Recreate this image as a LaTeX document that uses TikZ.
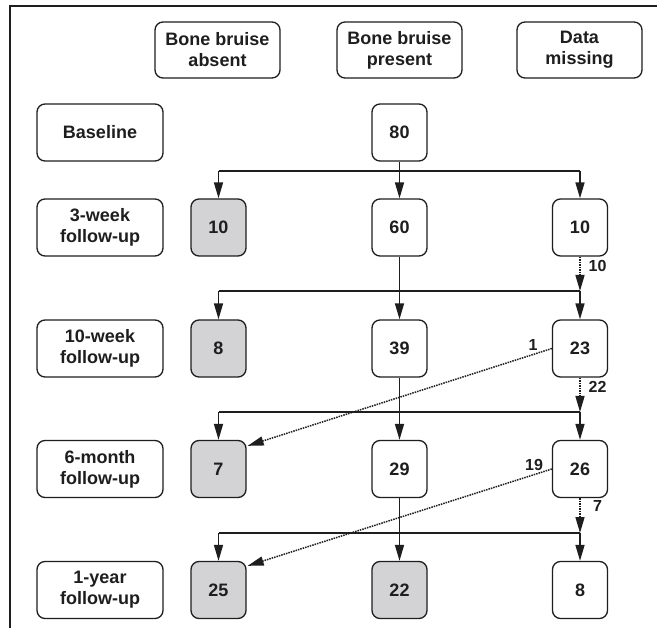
\documentclass[tikz,border=0pt]{standalone}
\usepackage{fontspec}
\setmainfont{Liberation Sans}
\usetikzlibrary{arrows.meta,calc}
\definecolor{boxgray}{RGB}{211,211,213}
\definecolor{ink}{RGB}{30,30,30}
\begin{document}
\begin{tikzpicture}[x=1pt,y=-1pt,
  box/.style={draw=ink, line width=1.3pt, rounded corners=8pt, align=center,
    font=\fontsize{18}{21}\selectfont\bfseries, inner sep=0pt, text=ink},
  lab/.style={box, minimum width=126pt, minimum height=57pt},
  hdr/.style={box, minimum width=125pt, minimum height=56pt},
  num/.style={box, minimum width=55pt, minimum height=57pt},
  gnum/.style={num, fill=boxgray},
  conn/.style={draw=ink, line width=1.6pt, -{Triangle[length=16pt,width=9pt]}},
  dconn/.style={draw=ink, line width=1.5pt, densely dotted, -{Triangle[length=16pt,width=9pt]}},
  plain/.style={draw=ink, line width=1.6pt},
  small/.style={font=\fontsize{16}{18}\selectfont\bfseries, text=ink, inner sep=0pt}
]
\useasboundingbox (0,0) rectangle (659,628);
\fill[white] (0,0) rectangle (659,628);
\draw[line width=2.3pt, ink] (10,628) -- (10,6) -- (657,6);

% headers
\node[hdr] (h1) at (217.5,50) {Bone bruise\\absent};
\node[hdr] (h2) at (399.5,50) {Bone bruise\\present};
\node[hdr] (h3) at (579.5,50) {Data\\missing};

% row labels
\node[lab] (l0) at (100,132.5) {Baseline};
\node[lab] (l1) at (100,227.5) {3-week\\follow-up};
\node[lab] (l2) at (100,348.5) {10-week\\follow-up};
\node[lab] (l3) at (100,469) {6-month\\follow-up};
\node[lab] (l4) at (100,590) {1-year\\follow-up};

% numbers
\node[num] (p0) at (399.5,132.5) {80};
\node[gnum] (a1) at (218.5,227.5) {10};
\node[num] (p1) at (399.5,227.5) {60};
\node[num] (m1) at (580,227.5) {10};
\node[gnum] (a2) at (218.5,348.5) {8};
\node[num] (p2) at (399.5,348.5) {39};
\node[num] (m2) at (580,348.5) {23};
\node[gnum] (a3) at (218.5,469) {7};
\node[num] (p3) at (399.5,469) {29};
\node[num] (m3) at (580,469) {26};
\node[gnum] (a4) at (218.5,590) {25};
\node[gnum] (p4) at (399.5,590) {22};
\node[num] (m4) at (580,590) {8};

% split points
\coordinate (s1) at (399.5,171);
\coordinate (s2) at (580,291);
\coordinate (s3) at (580,412);
\coordinate (s4) at (580,533);

% baseline -> 3-week
\draw[conn] (p0) -- (p1);
\draw[plain] (s1 -| a1) -- (s1 -| m1);
\draw[conn] (s1 -| a1) -- (a1);
\draw[conn] (s1 -| m1) -- (m1);

% 3-week -> 10-week
\draw[dconn] (m1) -- (s2);
\draw[conn] (p1) -- (p2);
\draw[plain] (s2 -| a2) -- (s2);
\draw[conn] (s2 -| a2) -- (a2);
\draw[conn] (s2) -- (m2);

% 10-week -> 6-month
\draw[dconn] (m2) -- (s3);
\draw[conn] (p2) -- (p3);
\draw[plain] (s3 -| a3) -- (s3);
\draw[conn] (s3 -| a3) -- (a3);
\draw[conn] (s3) -- (m3);
\coordinate (t3) at ($(a3.north east)+(1,6)$);
\draw[dconn] (m2.west) -- (t3);

% 6-month -> 1-year
\draw[dconn] (m3) -- (s4);
\draw[conn] (p3) -- (p4);
\draw[plain] (s4 -| a4) -- (s4);
\draw[conn] (s4 -| a4) -- (a4);
\draw[conn] (s4) -- (m4);
\coordinate (t4) at ($(a4.north east)+(1,5)$);
\draw[dconn] (m3.west) -- (t4);

% flow numbers
\node[small] (n10) at (597.5,266) {10};
\node[small] (n22) at (597.5,387) {22};
\node[small] (n7) at (597.5,506) {7};
\node[small] (n1) at (533,344.5) {1};
\node[small] (n19) at (534,464.5) {19};
\end{tikzpicture}
\end{document}
